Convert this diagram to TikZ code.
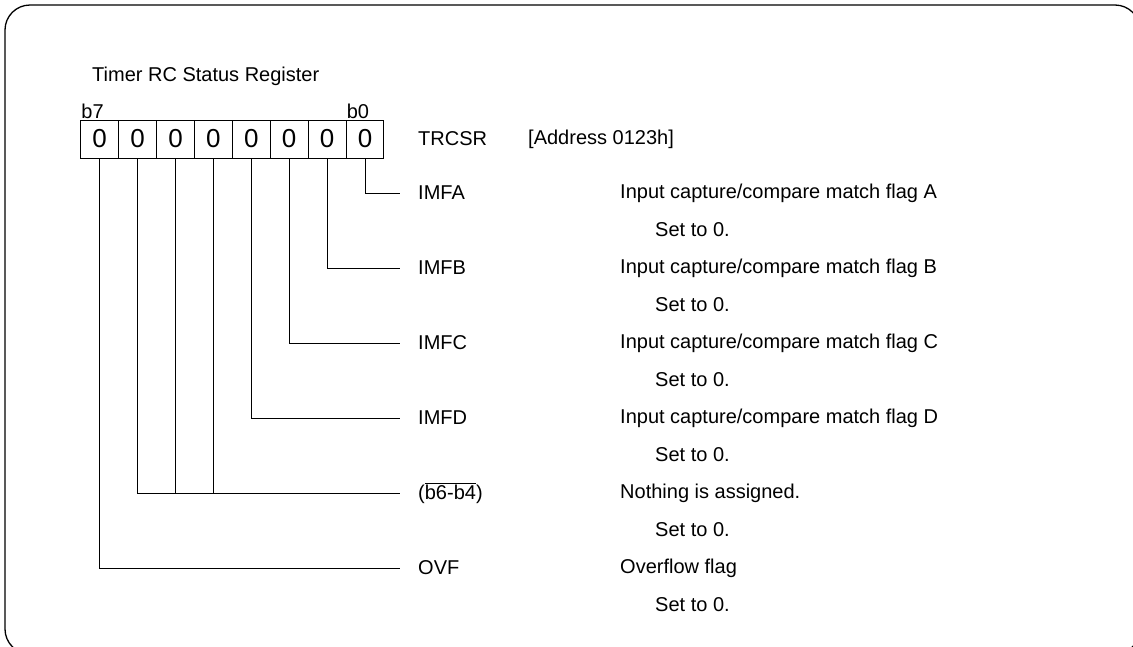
\documentclass[tikz,border=0pt]{standalone}
\usepackage{fontspec}
\setmainfont{Liberation Sans}
\usetikzlibrary{positioning}

\begin{document}
\begin{tikzpicture}[
  x=1pt,y=-1pt,
  font=\fontsize{20}{24}\selectfont,
  bitcell/.style={draw,line width=1pt,minimum width=37.9pt,minimum height=38pt,
                  inner sep=0pt,font=\fontsize{26}{30}\selectfont},
  lead/.style={line width=1pt},
  field/.style={anchor=west,inner sep=0pt},
  bitno/.style={anchor=south west,inner sep=1pt}
]
\useasboundingbox (0,0) rectangle (1133,646);
\draw[line width=1.3pt,rounded corners=25pt] (5,5) rectangle (1140,654);

\node[field] (title) at (92,76) {Timer RC Status Register};

% register cells, b0 on the right
\foreach \i in {0,...,7}
  \node[bitcell] (b\i) at ({365-\i*37.9},139) {0};
\node[bitno] (b7no) at (b7.north west) {b7};
\node[bitno] (b0no) at (b0.north west) {b0};

\node[field] (reg) at (418,139) {TRCSR};
\node[field] (addr) at (528,139) {[Address 0123h]};

\foreach \fid/\fname/\fdesc/\fy in {
  imfa/IMFA/{Input capture/compare match flag A}/193,
  imfb/IMFB/{Input capture/compare match flag B}/268,
  imfc/IMFC/{Input capture/compare match flag C}/343,
  imfd/IMFD/{Input capture/compare match flag D}/418,
  nb/{(\mbox{$\overline{\mbox{b6-b4}}$})}/{Nothing is assigned.}/493,
  ovf/OVF/{Overflow flag}/568}
  {
    \node[field] (\fid) at (418,\fy) {\fname};
    \node[field] (\fid-desc) at (620,\fy) {\fdesc};
    \node[field] (\fid-set) at (655,\fy+37) {Set to 0.};
  }

\draw[lead] (b0.south) |- ([xshift=-18pt]imfa.west);
\draw[lead] (b1.south) |- ([xshift=-18pt]imfb.west);
\draw[lead] (b2.south) |- ([xshift=-18pt]imfc.west);
\draw[lead] (b3.south) |- ([xshift=-18pt]imfd.west);
\draw[lead] (b6.south) |- ([xshift=-18pt]nb.west);
\draw[lead] (b5.south) -- (b5.south |- nb.west);
\draw[lead] (b4.south) -- (b4.south |- nb.west);
\draw[lead] (b7.south) |- ([xshift=-18pt]ovf.west);
\end{tikzpicture}
\end{document}
